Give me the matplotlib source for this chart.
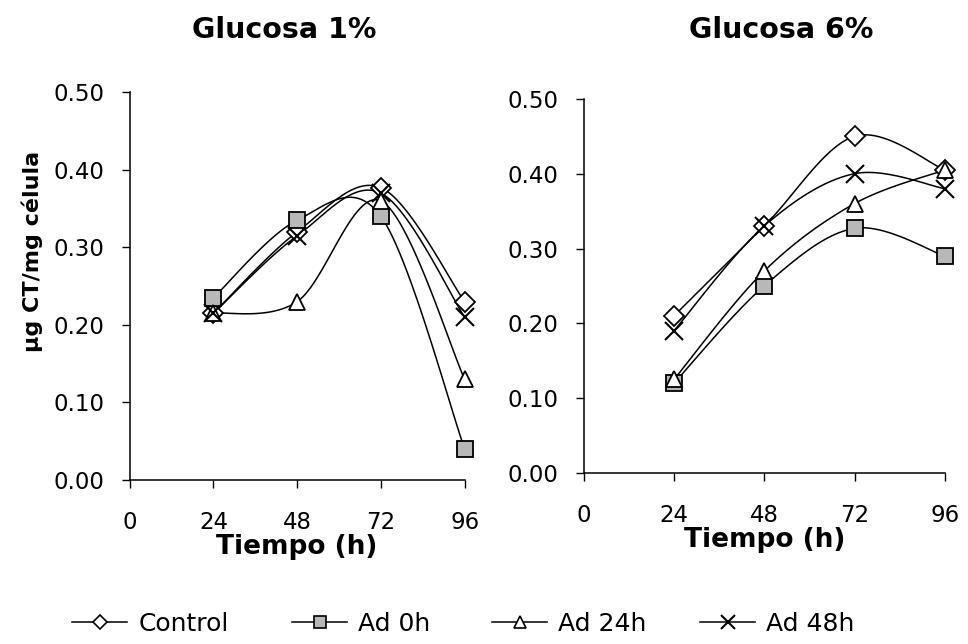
import numpy as np
import matplotlib.pyplot as plt
from matplotlib.lines import Line2D

plt.rcParams['font.family'] = ['DejaVu Sans']

# Time points (h)
tiempo = [24, 48, 72, 96]

# Glucosa 1%  (ug CT / mg celula)
g1_control = [0.215, 0.320, 0.377, 0.230]
g1_ad0 = [0.235, 0.335, 0.340, 0.040]
g1_ad24 = [0.215, 0.230, 0.360, 0.130]
g1_ad48 = [0.215, 0.315, 0.370, 0.210]

# Glucosa 6%
g6_control = [0.210, 0.330, 0.450, 0.405]
g6_ad0 = [0.120, 0.250, 0.327, 0.290]
g6_ad24 = [0.125, 0.270, 0.360, 0.405]
g6_ad48 = [0.190, 0.330, 0.400, 0.380]

series_names = ['Control', 'Ad 0h', 'Ad 24h', 'Ad 48h']
xticks = [0, 24, 48, 72, 96]
yticks = [0.0, 0.1, 0.2, 0.3, 0.4, 0.5]

styles = {
    'Control': dict(marker='D', ms=10, mfc='white'),
    'Ad 0h': dict(marker='s', ms=11, mfc='#b8b8b8'),
    'Ad 24h': dict(marker='^', ms=12, mfc='white'),
    'Ad 48h': dict(marker='x', ms=13, mfc='none', mew=1.5),
}


def smooth(x, y, n=30):
    """Spreadsheet-style smoothed line (cubic Bezier, Catmull-Rom tangents)."""
    p = np.column_stack([x, y]).astype(float)
    pts = np.vstack([p[0], p, p[-1]])
    t = np.linspace(0, 1, n)[:, None]
    out = []
    for i in range(1, len(pts) - 2):
        p0, p3 = pts[i], pts[i + 1]
        c1 = p0 + (pts[i + 1] - pts[i - 1]) / 6
        c2 = p3 - (pts[i + 2] - pts[i]) / 6
        seg = ((1 - t) ** 3) * p0 + 3 * ((1 - t) ** 2) * t * c1 \
            + 3 * (1 - t) * t ** 2 * c2 + t ** 3 * p3
        out.append(seg if i == 1 else seg[1:])
    out = np.vstack(out)
    return out[:, 0], out[:, 1]


def draw_panel(ax, data):
    for name, vals in zip(series_names, data):
        sx, sy = smooth(tiempo, vals)
        ax.plot(sx, sy, color='black', lw=1.1, zorder=2)
        st = dict(styles[name])
        ax.plot(tiempo, vals, ls='none', color='black', mec='black',
                mew=st.pop('mew', 1.3), zorder=3, clip_on=False, **st)
    ax.set_xlim(0, 96)
    ax.set_ylim(0, 0.5)
    ax.set_xticks(xticks)
    ax.set_yticks(yticks)
    ax.set_yticklabels([f'{v:.2f}' for v in yticks])
    for s in ['top', 'right']:
        ax.spines[s].set_visible(False)
    ax.spines['left'].set_linewidth(1.1)
    ax.spines['bottom'].set_linewidth(1.1)
    ax.tick_params(axis='both', direction='out', length=6, width=1.0,
                   labelsize=16.5, colors='black')
    ax.tick_params(axis='x', pad=16)
    ax.tick_params(axis='y', pad=12)
    ax.set_xlabel('Tiempo (h)', fontsize=19, fontweight='bold', labelpad=0)


fig = plt.figure(figsize=(9.68, 6.44), dpi=100)
ax1 = fig.add_axes([0.134, 0.2547, 0.346, 0.602])
ax2 = fig.add_axes([0.603, 0.2655, 0.373, 0.581])

draw_panel(ax1, [g1_control, g1_ad0, g1_ad24, g1_ad48])
draw_panel(ax2, [g6_control, g6_ad0, g6_ad24, g6_ad48])

ax1.set_ylabel('\u03bcg CT/mg c\u00e9lula', fontsize=16, fontweight='bold')
ax1.yaxis.set_label_coords(-0.26, 0.59)

fig.text(284 / 968, 1 - 30 / 644, 'Glucosa 1%', ha='center', va='center',
         fontsize=20.5, fontweight='bold')
fig.text(781 / 968, 1 - 30 / 644, 'Glucosa 6%', ha='center', va='center',
         fontsize=20.5, fontweight='bold')

# one legend box per entry so each sits at its own spot along the bottom
legend_x = [72, 292, 492, 700]
for name, lx in zip(series_names, legend_x):
    st = dict(styles[name])
    mew = st.pop('mew', 1.2)
    st['ms'] = st['ms'] * 0.75
    h = Line2D([], [], color='black', lw=1.1, mec='black', mew=mew, **st)
    fig.legend([h], [name], loc='center left',
               bbox_to_anchor=(lx / 968, 1 - 624 / 644), frameon=False,
               fontsize=18, handlelength=2.2, handletextpad=0.45,
               borderpad=0, borderaxespad=0)

fig.savefig('out.png', dpi=100)
